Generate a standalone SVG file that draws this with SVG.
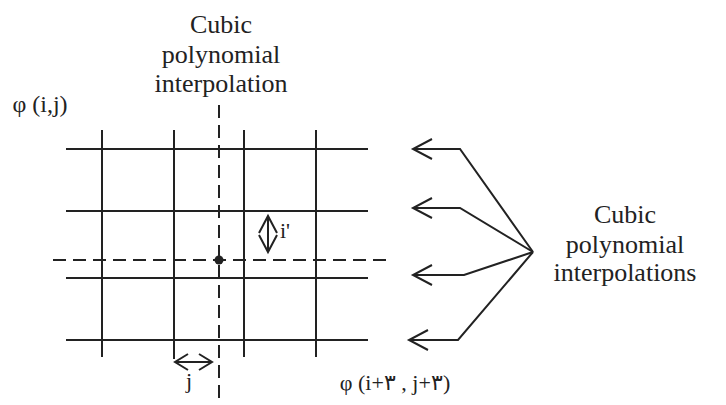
<svg xmlns="http://www.w3.org/2000/svg" width="726" height="405" viewBox="0 0 726 405">
<style>
.ln{stroke:#222;stroke-width:2;fill:none}
.ds{stroke:#222;stroke-width:2;fill:none;stroke-dasharray:13 7}
.t{font-family:'Times New Roman','Liberation Serif',Tinos,'DejaVu Serif','Noto Serif',serif;fill:#222;text-anchor:middle}
.ah{stroke:#222;stroke-width:2;fill:none;stroke-linejoin:miter}
</style>
<rect width="726" height="405" fill="#fff"/>
<g id="grid">
<line class="ln" x1="66" y1="149" x2="368" y2="149"/>
<line class="ln" x1="66" y1="211" x2="368" y2="211"/>
<line class="ln" x1="66" y1="278" x2="368" y2="278"/>
<line class="ln" x1="66" y1="340" x2="368" y2="340"/>
<line class="ln" x1="102" y1="130" x2="102" y2="357"/>
<line class="ln" x1="174" y1="130" x2="174" y2="359"/>
<line class="ln" x1="244" y1="130" x2="244" y2="357"/>
<line class="ln" x1="316" y1="130" x2="316" y2="357"/>
</g>
<g id="dashed-lines">
<line class="ds" x1="219" y1="105" x2="219" y2="398"/>
<line class="ds" x1="53" y1="260" x2="392" y2="260"/>
<circle cx="219" cy="260" r="4.5" fill="#222"/>
</g>
<g id="label-top">
<text class="t" font-size="26" x="221" y="33">Cubic</text>
<text class="t" font-size="26" x="221" y="63">polynomial</text>
<text class="t" font-size="26" x="221" y="92">interpolation</text>
</g>
<g id="label-phi-ij">
<text class="t" font-size="24" x="40" y="112">φ (i,j)</text>
</g>
<g id="label-phi-end">
<text class="t" font-size="22" x="395" y="390">φ (i+٣ , j+٣)</text>
</g>
<g id="i-arrow">
<line class="ln" x1="268" y1="216" x2="268" y2="252"/>
<polyline class="ah" points="259,233 268,216 277,233"/>
<polyline class="ah" points="259,235 268,252 277,235"/>
<text class="t" font-size="22" x="285" y="238">i'</text>
</g>
<g id="j-arrow">
<line class="ln" x1="175" y1="362" x2="212" y2="362"/>
<polyline class="ah" points="188,354 175,362 188,370"/>
<polyline class="ah" points="199,354 212,362 199,370"/>
<text class="t" font-size="22" x="189" y="388">j</text>
</g>
<g id="connectors">
<polyline class="ln" points="413,149 460,149 533,252"/>
<polyline class="ln" points="413,208 460,208 533,252"/>
<polyline class="ln" points="413,275 464,275 533,252"/>
<polyline class="ln" points="409,340 458,340 533,252"/>
<polyline class="ah" points="432,139 413,149 432,159"/>
<polyline class="ah" points="432,198 413,208 432,218"/>
<polyline class="ah" points="432,265 413,275 432,285"/>
<polyline class="ah" points="428,330 409,340 428,350"/>
</g>
<g id="label-right">
<text class="t" font-size="26" x="625" y="223">Cubic</text>
<text class="t" font-size="26" x="625" y="253">polynomial</text>
<text class="t" font-size="26" x="625" y="281">interpolations</text>
</g>
</svg>
